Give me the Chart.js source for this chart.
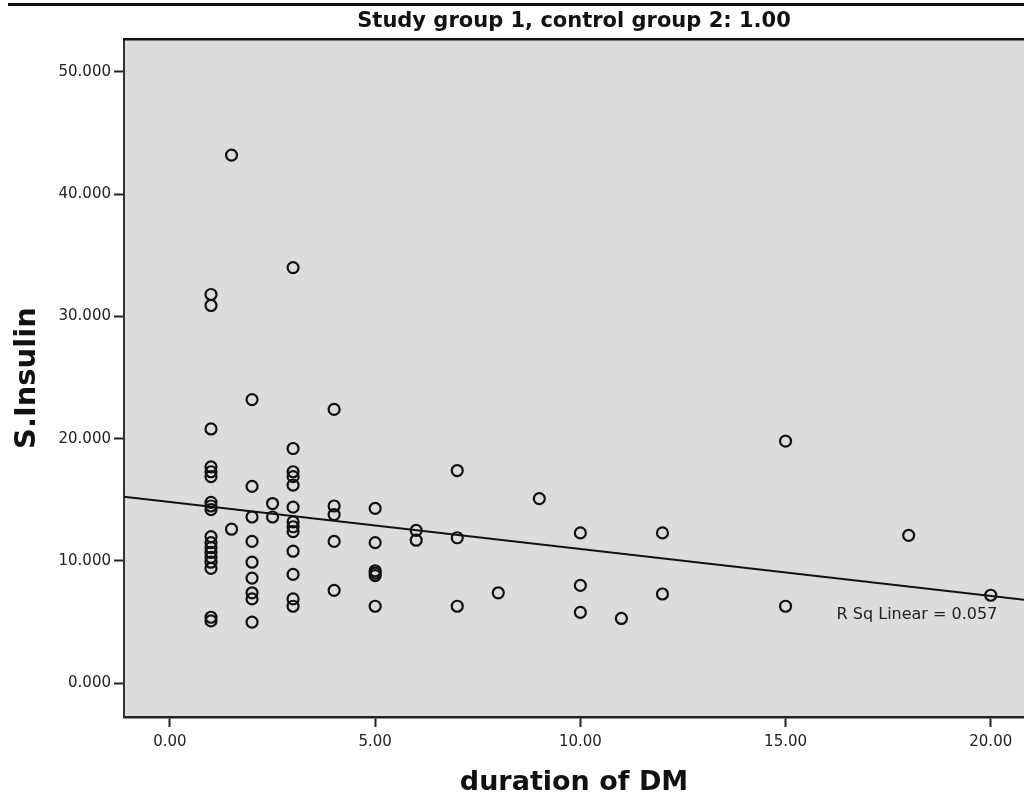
<!DOCTYPE html>
<html>
<head>
<meta charset="utf-8">
<script src="https://cdn.jsdelivr.net/npm/chart.js@4.4.0/dist/chart.umd.min.js"></script>
<style>
  html, body { margin: 0; padding: 0; background: #fff; }
  canvas { display: block; }
</style>
</head>
<body>
<canvas id="myChart" width="1024" height="796"></canvas>
<script>
// duration of DM (years), one entry per patient
var duration = [1,1,1,1,1,1,1,1,1,1,1,1,1,1,1,1,1,1,
    1.5,1.5,
    2,2,2,2,2,2,2,2,2,
    2.5,2.5,
    3,3,3,3,3,3,3,3,3,3,3,3,3,
    4,4,4,4,4,
    5,5,5,5,5,5,
    6,6,
    7,7,7,
    8,
    9,
    10,10,10,
    11,
    12,12,
    15,15,
    18,
    20];
// S.Insulin, same order as duration
var insulin = [31.8,30.9,20.8,17.7,17.3,16.9,14.8,14.5,14.2,12.0,11.5,11.1,10.7,10.3,9.9,9.4,5.4,5.1,
    43.2,12.6,
    23.2,16.1,13.6,11.6,9.9,8.6,7.4,6.9,5.0,
    14.7,13.6,
    34.0,19.2,17.3,16.9,16.2,14.4,13.2,12.8,12.4,10.8,8.9,6.9,6.3,
    22.4,14.5,13.8,11.6,7.6,
    14.3,11.5,9.2,9.0,8.8,6.3,
    12.5,11.7,
    17.4,11.9,6.3,
    7.4,
    15.1,
    12.3,8.0,5.8,
    5.3,
    12.3,7.3,
    19.8,6.3,
    12.1,
    7.2];
// fit line ends
var fitX = [-1.2, 21];
var fitY = [15.29, 6.75];
// axis ticks
var xTicks = [0, 5, 10, 15, 20];
var yTicks = [0, 10, 20, 30, 40, 50];
var titleText = 'Study group 1, control group 2: 1.00';
var rsqText = 'R Sq Linear = 0.057';
var rsqPos = [20.16, 5.58];

var font = "'DejaVu Sans', 'Liberation Sans', Arial, sans-serif";

var points = duration.map(function(d, i) { return {x: d, y: insulin[i]}; });
var fit = fitX.map(function(d, i) { return {x: d, y: fitY[i]}; });

// plot background, top rules and the R Sq note
var frame = {
    id: 'frame',
    beforeDraw: function(chart) {
        var ctx = chart.ctx, a = chart.chartArea;
        ctx.save();
        ctx.fillStyle = '#fff';
        ctx.fillRect(0, 0, chart.width, chart.height);
        ctx.fillStyle = '#dcdcdc';
        ctx.fillRect(a.left, a.top, a.right - a.left, a.bottom - a.top);
        ctx.restore();
    },
    afterDraw: function(chart) {
        var ctx = chart.ctx, a = chart.chartArea;
        ctx.save();
        ctx.strokeStyle = '#111';
        ctx.lineWidth = 3;
        ctx.beginPath();
        ctx.moveTo(8, 4.5);
        ctx.lineTo(chart.width, 4.5);
        ctx.stroke();
        ctx.lineWidth = 2.5;
        ctx.beginPath();
        ctx.moveTo(a.left - 1, a.top);
        ctx.lineTo(a.right, a.top);
        ctx.stroke();
        var px = chart.scales.x.getPixelForValue(rsqPos[0]);
        var py = chart.scales.y.getPixelForValue(rsqPos[1]);
        ctx.fillStyle = '#222';
        ctx.font = '16px ' + font;
        ctx.textAlign = 'right';
        ctx.textBaseline = 'middle';
        ctx.fillText(rsqText, px, py);
        ctx.restore();
    }
};

window.onload = function() {
    var ctx = document.getElementById('myChart').getContext('2d');
    new Chart(ctx, {
        type: 'scatter',
        data: {
            datasets: [{
                data: points,
                pointRadius: 5.5,
                pointHoverRadius: 5.5,
                pointBorderWidth: 2.2,
                borderColor: '#111',
                backgroundColor: 'rgba(0,0,0,0)'
            }, {
                type: 'line',
                data: fit,
                borderColor: '#111',
                borderWidth: 2,
                pointRadius: 0,
                fill: false,
                clip: 0
            }]
        },
        options: {
            responsive: false,
            animation: false,
            devicePixelRatio: 1,
            layout: { padding: 0, autoPadding: false },
            plugins: {
                legend: { display: false },
                tooltip: { enabled: false },
                title: {
                    display: true,
                    text: titleText,
                    fullSize: false,
                    color: '#111',
                    font: { family: font, size: 21, weight: 'bold' },
                    padding: { top: 9, bottom: 5 }
                }
            },
            scales: {
                x: {
                    type: 'linear',
                    min: -1.12,
                    max: 20.81,
                    afterFit: function(s) {
                        s.height = 79;
                        s.paddingLeft = 0;
                        s.paddingRight = 0;
                    },
                    afterBuildTicks: function(s) {
                        s.ticks = xTicks.map(function(v) { return {value: v}; });
                    },
                    grid: {
                        drawOnChartArea: false,
                        drawTicks: true,
                        tickLength: 10,
                        tickWidth: 2,
                        tickColor: '#222'
                    },
                    border: { display: true, color: '#222', width: 2.5 },
                    ticks: {
                        padding: 6,
                        color: '#222',
                        font: { family: font, size: 15 },
                        maxRotation: 0,
                        autoSkip: false,
                        callback: function(v) { return v.toFixed(2); }
                    },
                    title: {
                        display: true,
                        text: 'duration of DM',
                        color: '#111',
                        font: { family: font, size: 27, weight: 'bold' },
                        padding: { top: 0, bottom: -3 }
                    }
                },
                y: {
                    type: 'linear',
                    min: -2.76,
                    max: 52.68,
                    afterFit: function(s) {
                        s.width = 124;
                        s.paddingTop = 0;
                        s.paddingBottom = 0;
                    },
                    afterBuildTicks: function(s) {
                        s.ticks = yTicks.map(function(v) { return {value: v}; });
                    },
                    grid: {
                        drawOnChartArea: false,
                        drawTicks: true,
                        tickLength: 10,
                        tickWidth: 2,
                        tickColor: '#222'
                    },
                    border: { display: true, color: '#333', width: 2 },
                    ticks: {
                        padding: 3,
                        color: '#222',
                        font: { family: font, size: 15 },
                        autoSkip: false,
                        callback: function(v) { return v.toFixed(3); }
                    },
                    title: {
                        display: true,
                        text: 'S.Insulin',
                        color: '#111',
                        font: { family: font, size: 29, weight: 'bold' },
                        padding: { top: 10, bottom: 0 }
                    }
                }
            }
        },
        plugins: [frame]
    });
};
</script>
</body>
</html>
